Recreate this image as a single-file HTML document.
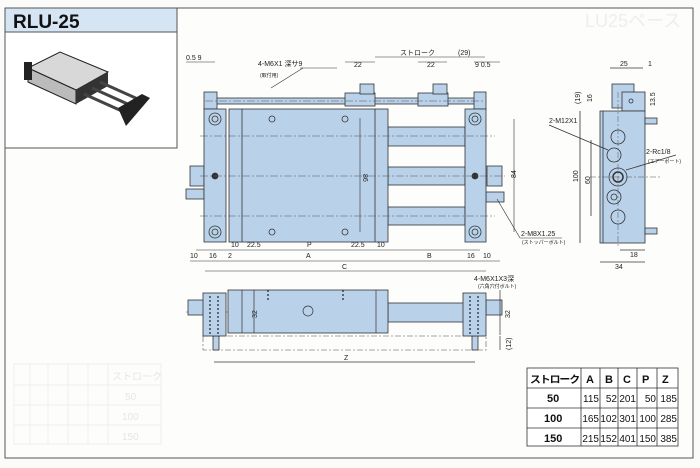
<!DOCTYPE html>
<html><head><meta charset="utf-8"><style>
html,body{margin:0;padding:0;background:#fdfdfb;}
svg{display:block;}
text{font-family:"Liberation Sans","Noto Sans CJK JP",sans-serif;}
</style></head><body>
<svg width="700" height="468" viewBox="0 0 700 468" xmlns="http://www.w3.org/2000/svg">
<rect x="0" y="0" width="700" height="468" fill="#fbfbf9"/>
<rect x="5" y="8" width="688" height="450" fill="#fdfdfc" stroke="#555" stroke-width="1"/>
<rect x="5" y="8" width="172" height="24" fill="#d6e5f4" stroke="#555"/>
<text x="13" y="28" font-size="19" font-weight="bold" fill="#111">RLU-25</text>
<rect x="5" y="32" width="172" height="116" fill="#fff" stroke="#555"/>
<g>
<polygon points="28,68 60,52 108,72 76,90" fill="#d8d8d8" stroke="#222"/>
<polygon points="28,68 76,90 76,104 28,82" fill="#bbb" stroke="#222"/>
<polygon points="76,90 108,72 108,86 76,104" fill="#333"/>
<line x1="100" y1="82" x2="140" y2="100" stroke="#444" stroke-width="3"/>
<line x1="92" y1="88" x2="132" y2="106" stroke="#444" stroke-width="3"/>
<line x1="84" y1="94" x2="124" y2="112" stroke="#444" stroke-width="3"/>
<polygon points="118,108 142,94 150,98 126,126" fill="#222"/>
<rect x="24" y="62" width="8" height="18" fill="#222"/>
</g>
<text x="585" y="27" font-size="18" fill="#eee">LU25ベース</text>
<g stroke="#eee" fill="none">
<rect x="14" y="364" width="147" height="80"/>
<line x1="14" y1="385" x2="161" y2="385"/><line x1="14" y1="405" x2="161" y2="405"/><line x1="14" y1="425" x2="161" y2="425"/>
<line x1="30" y1="364" x2="30" y2="444"/><line x1="48" y1="364" x2="48" y2="444"/><line x1="68" y1="364" x2="68" y2="444"/><line x1="88" y1="364" x2="88" y2="444"/><line x1="108" y1="364" x2="108" y2="444"/>
</g>
<g fill="#e6e6e6" font-size="10">
<text x="112" y="380">ストローク</text><text x="125" y="400">50</text><text x="122" y="420">100</text><text x="122" y="440">150</text>
</g>

<g stroke="#333" stroke-width="0.8" fill="#b9d2ea">
<rect x="210" y="98" width="270" height="6"/>
<rect x="204" y="92" width="13" height="17"/>
<rect x="474" y="92" width="12" height="17"/>
<rect x="345" y="93" width="30" height="13"/><rect x="360" y="84" width="14" height="10"/>
<rect x="418" y="93" width="30" height="13"/><rect x="433" y="84" width="14" height="10"/>
<rect x="388" y="127" width="77" height="19"/>
<rect x="388" y="167" width="77" height="18"/>
<rect x="388" y="207" width="77" height="18"/>
<rect x="190" y="166" width="14" height="20"/>
<rect x="487" y="166" width="15" height="20"/>
<rect x="186" y="189" width="18" height="10"/>
<rect x="486" y="192" width="18" height="10"/>
<rect x="204" y="109" width="22" height="133"/>
<rect x="229" y="109" width="159" height="133"/>
<rect x="465" y="109" width="21" height="133"/>
</g>
<g stroke="#333" stroke-width="0.8" fill="none">
<line x1="242" y1="109" x2="242" y2="242"/><line x1="375" y1="109" x2="375" y2="242"/>
<circle cx="215" cy="119" r="6"/><circle cx="215" cy="119" r="3"/>
<circle cx="215" cy="232" r="6"/><circle cx="215" cy="232" r="3"/>
<circle cx="475" cy="119" r="6"/><circle cx="475" cy="119" r="3"/>
<circle cx="475" cy="232" r="6"/><circle cx="475" cy="232" r="3"/>
<circle cx="272" cy="119" r="3"/><circle cx="345" cy="119" r="3"/>
<circle cx="272" cy="232" r="3"/><circle cx="345" cy="232" r="3"/>
<circle cx="215" cy="176" r="3" fill="#333"/><circle cx="475" cy="176" r="3" fill="#333"/>
</g>
<g stroke="#555" stroke-width="0.6" stroke-dasharray="8,2,2,2" fill="none">
<line x1="200" y1="136" x2="495" y2="136"/>
<line x1="200" y1="176" x2="505" y2="176"/>
<line x1="200" y1="216" x2="495" y2="216"/>
<line x1="205" y1="101" x2="485" y2="101"/>
</g>
<g stroke="#333" stroke-width="0.6" fill="none">
<line x1="196" y1="250" x2="480" y2="250"/>
<line x1="190" y1="261" x2="500" y2="261"/>
<line x1="205" y1="271" x2="486" y2="271"/>
<line x1="186" y1="62" x2="215" y2="62"/>
<line x1="345" y1="62" x2="375" y2="62"/>
<line x1="375" y1="57" x2="447" y2="57"/>
<line x1="418" y1="62" x2="447" y2="62"/>
<line x1="447" y1="57" x2="485" y2="57"/>
<line x1="474" y1="62" x2="500" y2="62"/>
<line x1="360" y1="118" x2="360" y2="232"/>
<line x1="514" y1="119" x2="514" y2="232"/>
<line x1="271" y1="88" x2="303" y2="68"/>
<line x1="300" y1="68" x2="337" y2="68"/>
<line x1="497" y1="199" x2="520" y2="238"/>
<line x1="520" y1="238" x2="562" y2="238"/>
</g>
<g font-size="7" fill="#222">
<text x="186" y="60">0.5 9</text>
<text x="258" y="66">4-M6X1 深サ9</text>
<text x="260" y="77" font-size="5">(取付用)</text>
<text x="354" y="67">22</text><text x="427" y="67">22</text>
<text x="400" y="55">ストローク</text><text x="458" y="55">(29)</text>
<text x="475" y="67">9 0.5</text>
<text x="363" y="174" transform="rotate(90 363 174)">86</text>
<text x="516" y="178" transform="rotate(-90 516 178)">84</text>
<text x="231" y="247">10</text><text x="247" y="247">22.5</text><text x="307" y="247">P</text><text x="351" y="247">22.5</text><text x="377" y="247">10</text>
<text x="190" y="258">10</text><text x="209" y="258">16</text><text x="228" y="258">2</text><text x="306" y="258">A</text><text x="427" y="258">B</text><text x="467" y="258">16</text><text x="483" y="258">10</text>
<text x="342" y="269">C</text>
<text x="521" y="236">2-M8X1.25</text>
<text x="522" y="244" font-size="5">(ストッパーボルト)</text>
<text x="474" y="281">4-M6X1X3深</text>
<text x="478" y="288" font-size="5">(六角穴付ボルト)</text>
</g>

<g stroke="#333" stroke-width="0.8" fill="#b9d2ea">
<rect x="612" y="84" width="22" height="24"/>
<rect x="622" y="92" width="23" height="19"/>
<rect x="600" y="111" width="45" height="132"/>
<rect x="645" y="118" width="12" height="6"/>
<rect x="645" y="228" width="12" height="6"/>
</g>
<g stroke="#333" stroke-width="0.8" fill="none">
<line x1="603" y1="111" x2="603" y2="243"/>
<circle cx="618" cy="137" r="7"/><circle cx="614" cy="155" r="7"/>
<circle cx="618" cy="177" r="9"/><circle cx="618" cy="177" r="5" stroke-width="1.5"/>
<circle cx="614" cy="197" r="7"/><circle cx="614" cy="197" r="3"/>
<circle cx="618" cy="217" r="7"/>
<circle cx="631" cy="101" r="2"/>
<line x1="580" y1="111" x2="580" y2="243"/>
<line x1="591" y1="140" x2="591" y2="216"/>
<line x1="600" y1="262" x2="645" y2="262"/>
<line x1="620" y1="250" x2="645" y2="250"/>
<line x1="610" y1="68" x2="643" y2="68"/>
<line x1="549" y1="125" x2="608" y2="150"/>
<line x1="626" y1="170" x2="676" y2="155"/>
</g>
<g stroke="#555" stroke-width="0.5" stroke-dasharray="6,2,2,2"><line x1="618" y1="92" x2="618" y2="248"/><line x1="590" y1="177" x2="660" y2="177"/></g>
<g font-size="7" fill="#222">
<text x="620" y="66">25</text><text x="648" y="66">1</text>
<text x="549" y="123">2-M12X1</text>
<text x="646" y="154">2-Rc1/8</text>
<text x="648" y="163" font-size="5">(エアーポート)</text>
<text x="578" y="182" transform="rotate(-90 578 182)">100</text>
<text x="590" y="184" transform="rotate(-90 590 184)">60</text>
<text x="580" y="104" transform="rotate(-90 580 104)">(19)</text>
<text x="592" y="102" transform="rotate(-90 592 102)">16</text>
<text x="655" y="106" transform="rotate(-90 655 106)">13.5</text>
<text x="630" y="257">18</text><text x="615" y="269">34</text>
</g>

<g stroke="#555" stroke-width="0.6" stroke-dasharray="6,2,2,2" fill="none">
<rect x="203" y="336" width="283" height="14"/>
<line x1="186" y1="312" x2="500" y2="312"/>
</g>
<g stroke="#333" stroke-width="0.8" fill="#b9d2ea">
<rect x="388" y="303" width="77" height="19"/>
<rect x="188" y="300" width="16" height="15"/>
<rect x="486" y="300" width="16" height="15"/>
<rect x="213" y="336" width="6" height="14"/>
<rect x="472" y="336" width="6" height="14"/>
<rect x="203" y="293" width="23" height="43"/>
<rect x="228" y="290" width="160" height="43"/>
<rect x="463" y="293" width="23" height="43"/>
</g>
<g stroke="#333" stroke-width="0.7" fill="none">
<line x1="242" y1="290" x2="242" y2="333"/><line x1="376" y1="290" x2="376" y2="333"/>
<circle cx="308" cy="311" r="5"/>
<line x1="214" y1="362" x2="475" y2="362"/>
<line x1="254" y1="290" x2="254" y2="333"/>
<line x1="500" y1="290" x2="500" y2="335"/>
<line x1="500" y1="336" x2="500" y2="350"/>
</g>
<g stroke="#222" stroke-width="1.2" stroke-dasharray="2,2"><line x1="210" y1="296" x2="210" y2="334"/><line x1="218" y1="296" x2="218" y2="334"/><line x1="470" y1="296" x2="470" y2="334"/><line x1="478" y1="296" x2="478" y2="334"/><line x1="268" y1="290" x2="268" y2="302"/><line x1="343" y1="290" x2="343" y2="302"/></g>
<g font-size="7" fill="#222">
<text x="344" y="360">Z</text>
<text x="257" y="318" transform="rotate(-90 257 318)">32</text>
<text x="510" y="318" transform="rotate(-90 510 318)">32</text>
<text x="511" y="350" transform="rotate(-90 511 350)">(12)</text>
</g>

<g stroke="#333" stroke-width="0.8" fill="none">
<rect x="527" y="368" width="151" height="78" fill="#fff"/>
<line x1="527" y1="388" x2="678" y2="388"/><line x1="527" y1="408" x2="678" y2="408"/><line x1="527" y1="428" x2="678" y2="428"/>
<line x1="581" y1="368" x2="581" y2="446"/><line x1="600" y1="368" x2="600" y2="446"/><line x1="618" y1="368" x2="618" y2="446"/><line x1="637" y1="368" x2="637" y2="446"/><line x1="657" y1="368" x2="657" y2="446"/>
</g>
<text x="530" y="383" font-size="10" font-weight="bold" fill="#111" letter-spacing="-1" textLength="49" lengthAdjust="spacingAndGlyphs">ストローク</text>
<g font-size="11" fill="#111" font-weight="bold">
<text x="586" y="383">A</text><text x="605" y="383">B</text><text x="623" y="383">C</text><text x="642" y="383">P</text><text x="662" y="383">Z</text>
<text x="547" y="402">50</text><text x="544" y="422">100</text><text x="544" y="442">150</text>
</g>
<g font-size="10" fill="#111" text-anchor="end">
<text x="599" y="402">115</text><text x="617" y="402">52</text><text x="636" y="402">201</text><text x="656" y="402">50</text><text x="677" y="402">185</text>
<text x="599" y="422">165</text><text x="617" y="422">102</text><text x="636" y="422">301</text><text x="656" y="422">100</text><text x="677" y="422">285</text>
<text x="599" y="442">215</text><text x="617" y="442">152</text><text x="636" y="442">401</text><text x="656" y="442">150</text><text x="677" y="442">385</text>
</g>
</svg>
</body></html>
